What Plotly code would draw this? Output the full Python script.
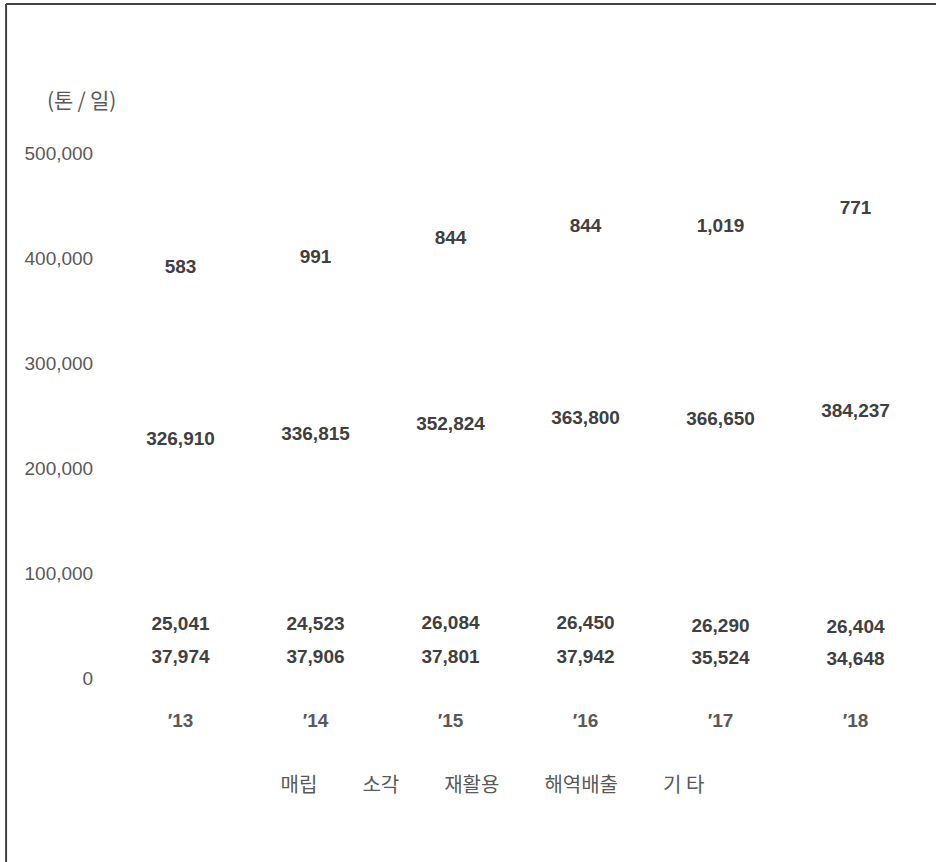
import plotly.graph_objects as go
import numpy as np

years = ["′13", "′14", "′15", "′16", "′17", "′18"]
landfill = [37974, 37906, 37801, 37942, 35524, 34648]      # 매립
incineration = [25041, 24523, 26084, 26450, 26290, 26404]  # 소각
recycling = [326910, 336815, 352824, 363800, 366650, 384237]  # 재활용
ocean = [None, None, None, None, None, None]               # 해역배출 (no values shown)
other = [583, 991, 844, 844, 1019, 771]                    # 기 타

series_names = ["매립", "소각", "재활용", "해역배출", "기 타"]
series_vals = [landfill, incineration, recycling, ocean, other]

NUM_FONT = "Liberation Sans, Arial, Noto Sans CJK KR, sans-serif"
KR_FONT = "Noto Sans CJK KR, Liberation Sans, sans-serif"
fig = go.Figure()

for name, vals in zip(series_names, series_vals):
    fig.add_trace(go.Bar(
        x=years, y=[v if v is not None else 0 for v in vals], name=name,
        marker=dict(color="rgba(0,0,0,0)", line=dict(width=0)),
        textposition="none", hoverinfo="skip",
    ))

# label positions computed from the data (stack mid-points / stack top)
base = np.zeros(len(years))
for name, vals in zip(series_names, series_vals):
    if vals[0] is None:
        continue
    v = np.array(vals, dtype=float)
    if name == "기 타":
        ypos = base + v
    else:
        ypos = base + v / 2
    fig.add_trace(go.Scatter(
        x=years, y=ypos, mode="text",
        text=[f"{int(x):,}" for x in v],
        textfont=dict(family=NUM_FONT, size=19, color="#404040", weight="bold"),
        showlegend=False, hoverinfo="skip",
    ))
    base = base + v

fig.update_layout(
    width=936, height=862,
    barmode="stack",
    plot_bgcolor="white", paper_bgcolor="white",
    margin=dict(l=113, r=13, t=153, b=184),
    showlegend=True,
    legend=dict(orientation="h", x=0.447, xanchor="center", y=-0.202, yanchor="middle",
                traceorder="normal",
                font=dict(family=KR_FONT, size=20, color="#595959"),
                itemclick=False),
    xaxis=dict(showgrid=False, showline=False, zeroline=False,
               ticks="outside", ticklen=25, tickcolor="rgba(0,0,0,0)",
               tickfont=dict(family=NUM_FONT, size=19, color="#595959", weight="bold")),
    yaxis=dict(range=[0, 500000], tickvals=[0, 100000, 200000, 300000, 400000, 500000],
               tickformat=",d", showgrid=False, showline=False, zeroline=False,
               ticks="outside", ticklen=15, tickcolor="rgba(0,0,0,0)",
               tickfont=dict(family=NUM_FONT, size=19, color="#595959")),
    annotations=[dict(text="(톤\u2009/\u2009일)", xref="paper", yref="paper", x=-0.0389, y=1.103,
                      xanchor="center", yanchor="middle", showarrow=False,
                      font=dict(family=KR_FONT, size=21, color="#595959"))],
    shapes=[
        dict(type="line", xref="paper", yref="paper", x0=-0.132, x1=1.1, y0=1.284, y1=1.284,
             line=dict(color="#404040", width=2)),
        dict(type="line", xref="paper", yref="paper", x0=-0.132, x1=-0.132, y0=1.284, y1=-0.4,
             line=dict(color="#404040", width=2)),
    ],
)

fig.write_html("out.html", config={"displayModeBar": False},
               post_script="document.body.style.margin='0';")
